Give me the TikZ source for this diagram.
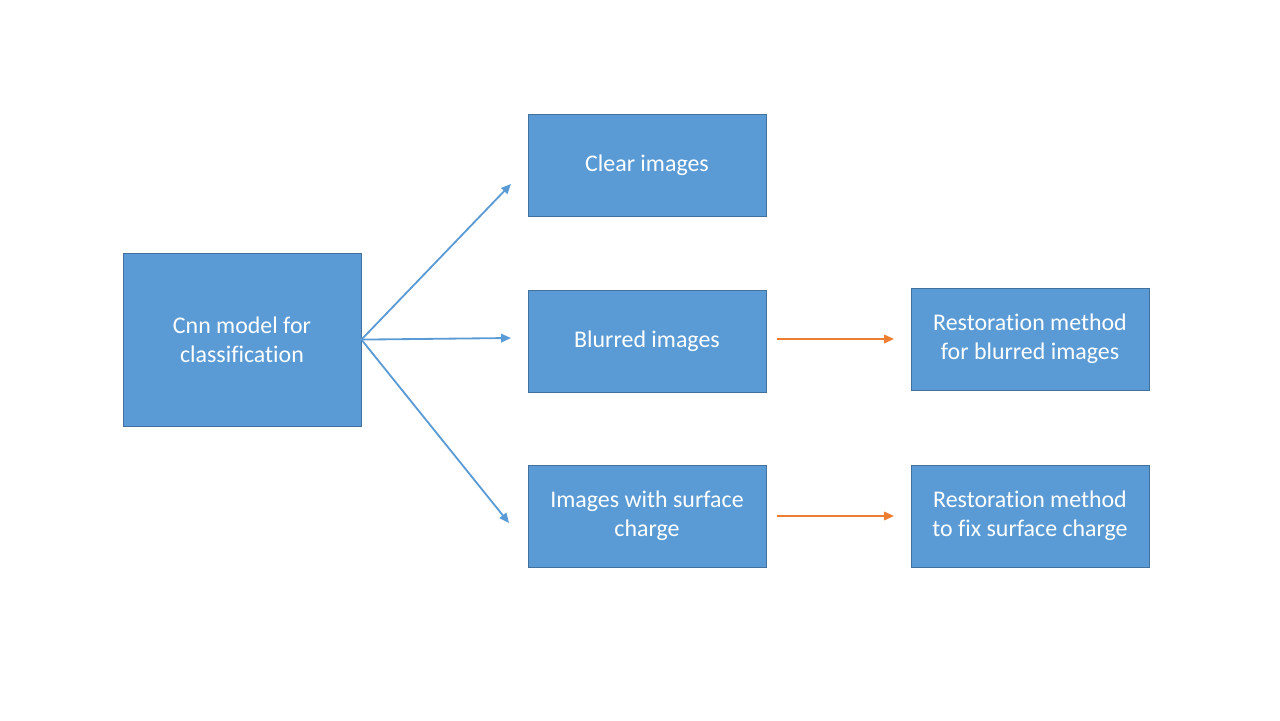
\documentclass[tikz,border=0pt]{standalone}
\usepackage{fontspec}
\setmainfont[Ligatures={NoCommon}]{Carlito}
\usetikzlibrary{arrows.meta}
\definecolor{boxblue}{HTML}{5B9BD5}
\definecolor{boxedge}{HTML}{41719C}
\definecolor{arrorange}{HTML}{ED7D31}
\tikzset{
  stepbox/.style={draw=boxedge, fill=boxblue, line width=0.6pt, text=white, align=center,
    minimum width=5.95cm, font=\fontsize{17}{20.5}\selectfont, inner sep=0pt},
  bluearr/.style={draw=boxblue, line width=1.3pt, -{Triangle[length=7pt,width=6pt]}},
  orangearr/.style={draw=arrorange, line width=1.3pt, -{Triangle[length=7pt,width=6pt]}}
}
\begin{document}
\begin{tikzpicture}
\useasboundingbox (0,0) rectangle (32,18);
%%Boxes
\node[stepbox, minimum height=4.325cm] (cnn) at (6.05,9.51) {Cnn model for\\classification};
\node[stepbox, minimum height=2.55cm] (clear) at (16.175,13.875) {Clear images};
\node[stepbox, minimum height=2.55cm] (blur) at (16.175,9.475) {Blurred images};
\node[stepbox, minimum height=2.55cm] (surf) at (16.175,5.1) {Images with surface\\charge};
\node[stepbox, minimum height=2.55cm] (restblur) at (25.75,9.525) {Restoration method\\for blurred images};
\node[stepbox, minimum height=2.55cm] (restsurf) at (25.75,5.1) {Restoration method\\to fix surface charge};
%%Arrow ends
\coordinate (toclear) at (12.775,13.4);
\coordinate (toblur) at (12.775,9.55);
\coordinate (tosurf) at (12.725,4.925);
\coordinate (fromblur) at (19.425,9.525);
\coordinate (intoblur) at (22.35,9.525);
\coordinate (fromsurf) at (19.425,5.1);
\coordinate (intosurf) at (22.35,5.1);
%%Blue arrows
\draw[bluearr] (cnn.east) -- (toclear);
\draw[bluearr] (cnn.east) -- (toblur);
\draw[bluearr] (cnn.east) -- (tosurf);
%%Orange arrows
\draw[orangearr] (fromblur) -- (intoblur);
\draw[orangearr] (fromsurf) -- (intosurf);
\end{tikzpicture}
\end{document}
